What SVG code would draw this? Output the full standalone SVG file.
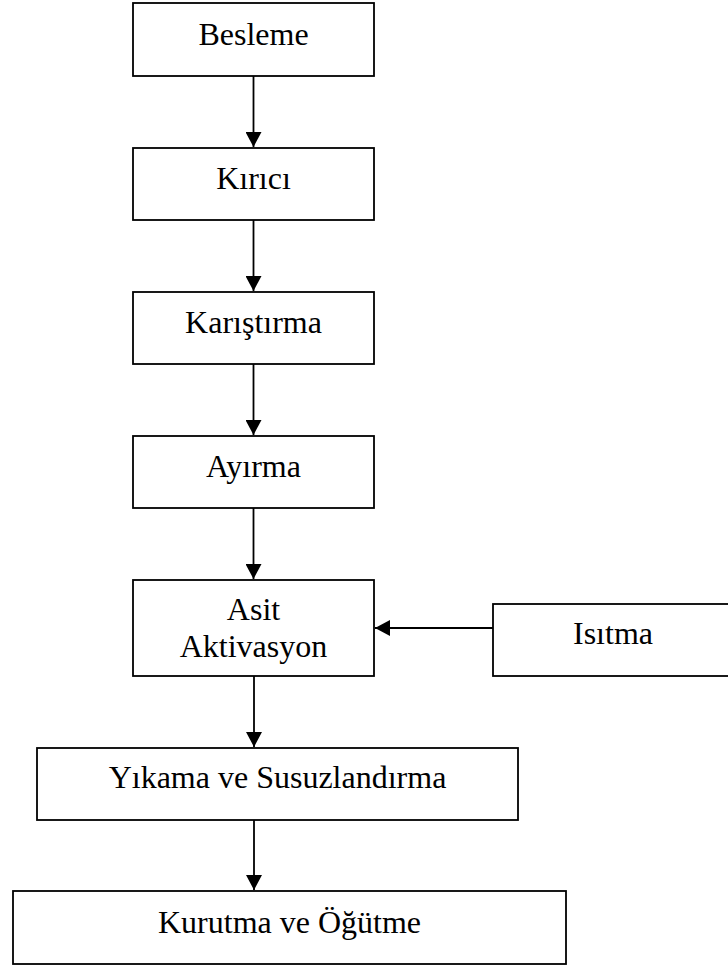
<svg xmlns="http://www.w3.org/2000/svg" width="728" height="969" viewBox="0 0 728 969">
<style>
.box{fill:#fff;stroke:#000;stroke-width:1.8}
.lbl{font-family:"Liberation Serif","Times New Roman",serif;font-size:32px;fill:#000;text-anchor:middle}
.con{stroke:#000;stroke-width:1.8;fill:none;marker-end:url(#ah)}
</style>
<defs>
<marker id="ah" markerUnits="userSpaceOnUse" markerWidth="15" markerHeight="16" viewBox="0 0 15 16" refX="15" refY="8" orient="auto">
<path d="M0,0 L15,8 L0,16 Z" fill="#000"/>
</marker>
</defs>
<rect width="728" height="969" fill="#fff"/>
<g id="connectors">
<line class="con" x1="253.5" y1="76" x2="253.5" y2="147"/>
<line class="con" x1="253.5" y1="220" x2="253.5" y2="291"/>
<line class="con" x1="253.5" y1="364" x2="253.5" y2="435"/>
<line class="con" x1="253.5" y1="508" x2="253.5" y2="579"/>
<line class="con" x1="493" y1="628" x2="375" y2="628"/>
<line class="con" x1="254" y1="676" x2="254" y2="747"/>
<line class="con" x1="254" y1="820" x2="254" y2="890"/>
</g>
<g id="besleme"><rect class="box" x="133" y="3" width="241" height="73"/><text class="lbl" x="253.5" y="45">Besleme</text></g>
<g id="kirici"><rect class="box" x="133" y="148" width="241" height="72"/><text class="lbl" x="253.5" y="189">Kırıcı</text></g>
<g id="karistirma"><rect class="box" x="133" y="292" width="241" height="72"/><text class="lbl" x="253.5" y="333">Karıştırma</text></g>
<g id="ayirma"><rect class="box" x="133" y="436" width="241" height="72"/><text class="lbl" x="253.5" y="477">Ayırma</text></g>
<g id="asit"><rect class="box" x="133" y="580" width="241" height="96"/><text class="lbl" x="253.5" y="620">Asit</text><text class="lbl" x="253.5" y="657">Aktivasyon</text></g>
<g id="isitma"><rect class="box" x="493" y="604" width="241" height="72"/><text class="lbl" x="613" y="644">Isıtma</text></g>
<g id="yikama"><rect class="box" x="37" y="748" width="481" height="72"/><text class="lbl" x="277.5" y="788">Yıkama ve Susuzlandırma</text></g>
<g id="kurutma"><rect class="box" x="13" y="891" width="553" height="73"/><text class="lbl" x="289.5" y="933">Kurutma ve Öğütme</text></g>
</svg>
